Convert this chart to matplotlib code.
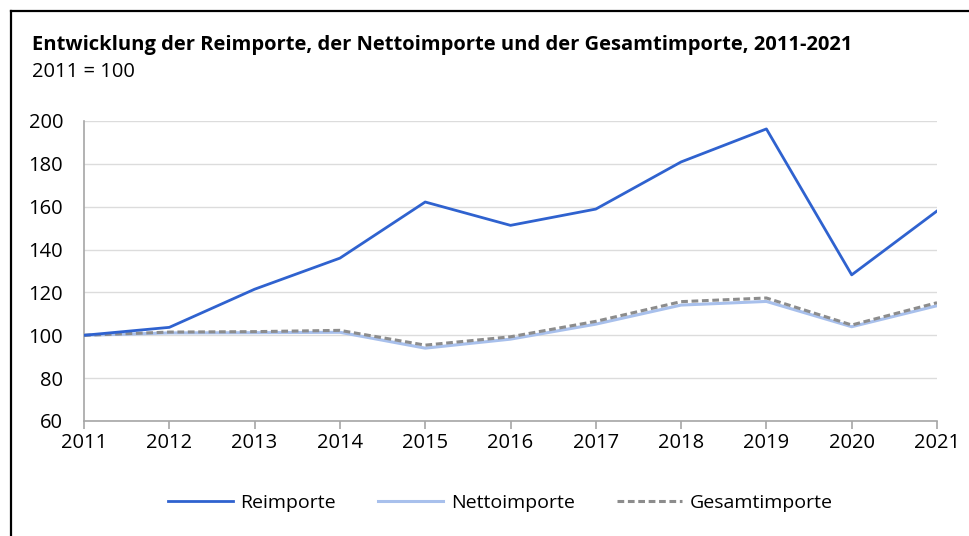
import matplotlib.pyplot as plt
from matplotlib.lines import Line2D

# Data (index, 2011 = 100)
years = [2011, 2012, 2013, 2014, 2015, 2016, 2017, 2018, 2019, 2020, 2021]
reimporte = [100, 103.7, 121.5, 136.0, 162.2, 151.3, 158.9, 180.9, 196.3, 128.2, 158.0]
nettoimporte = [100, 101.1, 101.2, 101.4, 94.0, 98.2, 105.2, 114.1, 115.8, 104.0, 113.8]
gesamtimporte = [100, 101.5, 101.7, 102.3, 95.4, 99.3, 106.5, 115.7, 117.4, 104.8, 115.2]
yticks = [60, 80, 100, 120, 140, 160, 180, 200]

title = "Entwicklung der Reimporte, der Nettoimporte und der Gesamtimporte, 2011-2021"
subtitle = "2011 = 100"

plt.rcParams['font.family'] = ['Open Sans', 'DejaVu Sans']

fig = plt.figure(figsize=(9.69, 5.36), dpi=100)
ax = fig.add_axes([84/969, 1 - 421/536, (937 - 84)/969, 300/536])

ax.plot(years, nettoimporte, color='#a8c0ec', lw=2.2, label='Nettoimporte', zorder=3)
ax.plot(years, gesamtimporte, color='#8c8c8c', lw=2.2, ls=(0, (2.2, 1.2)),
        label='Gesamtimporte', zorder=4)
ax.plot(years, reimporte, color='#2f62cf', lw=2.0, label='Reimporte', zorder=5)

ax.set_xlim(2011, 2021)
ax.set_ylim(60, 200)
ax.set_xticks(years)
ax.set_yticks(yticks)
ax.tick_params(axis='x', labelsize=14.5, length=6, width=1.2, color='#a6a6a6',
               direction='out', pad=3)
ax.tick_params(axis='y', labelsize=14.5, length=0, pad=15)
for lab in ax.get_yticklabels():
    lab.set_horizontalalignment('right')

ax.grid(axis='y', color='#dcdcdc', lw=1.0, zorder=0)
for s in ['top', 'right']:
    ax.spines[s].set_visible(False)
for s in ['left', 'bottom']:
    ax.spines[s].set_color('#a6a6a6')
    ax.spines[s].set_linewidth(1.2)

# Legend in reference order
h, l = ax.get_legend_handles_labels()
order = [2, 0, 1]
fig.legend([h[i] for i in order], [l[i] for i in order], loc='center',
           bbox_to_anchor=(0.516, 1 - 503/536), ncol=3, frameon=False,
           fontsize=14, handlelength=3.35, columnspacing=2.15, handletextpad=0.4)

fig.text(32/969, 1 - 45/536, title, fontsize=14.5, fontweight='bold', va='center')
fig.text(32/969, 1 - 72/536, subtitle, fontsize=14.5, va='center')

# Frame on the left and top
fig.add_artist(Line2D([11/969, 1], [1 - 11/536, 1 - 11/536], color='black', lw=1.6,
                      transform=fig.transFigure))
fig.add_artist(Line2D([11/969, 11/969], [0, 1 - 11/536], color='black', lw=1.6,
                      transform=fig.transFigure))

fig.savefig('out.png', dpi=100)
